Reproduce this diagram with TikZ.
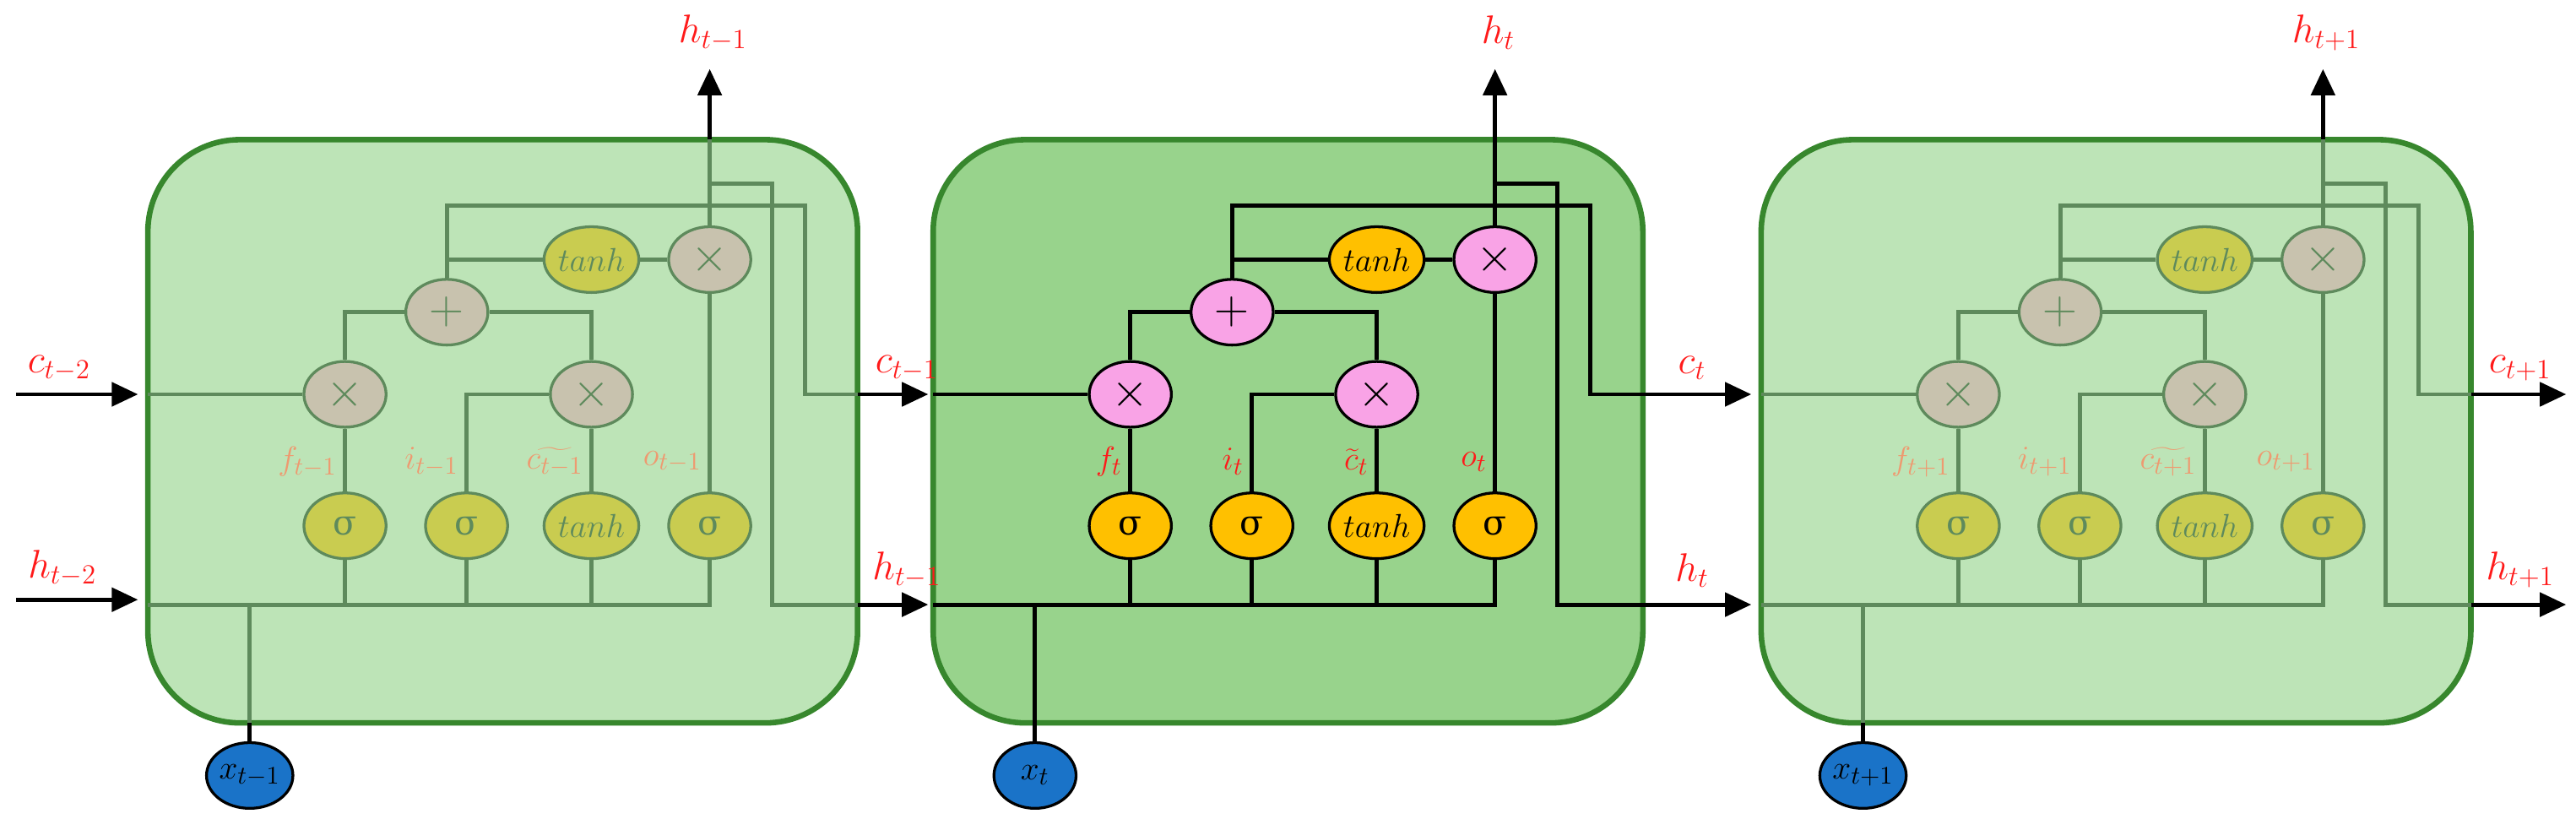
\documentclass[tikz,border=0pt]{standalone}
\usepackage{fontspec}
\newfontfamily\grk{DejaVu Serif}
\usetikzlibrary{shapes.geometric,arrows.meta}
\definecolor{red1}{HTML}{FF1A1A}
\tikzset{
  gate/.style={ellipse,draw=NB,fill=GF,text=NT,line width=1.2pt,minimum width=12.5mm,minimum height=10mm,inner sep=0pt,font=\fontsize{15}{15}\selectfont},
  op/.style={gate,fill=OF,font=\fontsize{20}{20}\selectfont},
  xin/.style={ellipse,draw=black,fill={rgb,255:red,26;green,115;blue,200},line width=1.2pt,minimum width=12.5mm,minimum height=10mm,inner sep=0pt,font=\fontsize{15}{15}\selectfont},
  wire/.style={draw=LC,line width=1.8pt},
  bwire/.style={draw=black,line width=1.8pt},
  arr/.style={bwire,-{Triangle[length=4mm,width=3.6mm]}},
  glab/.style={text=GL,anchor=east,inner sep=0.5pt,font=\fontsize{15}{15}\selectfont},
  olab/.style={text=red1,inner sep=1pt,font=\fontsize{17}{17}\selectfont},
  box/.style={draw={rgb,255:red,55;green,135;blue,45},line width=2.4pt,rounded corners=14mm}
}
\newcommand\lstmcell[6]{%
\begin{scope}[xshift=#2*0.25mm]
\draw[box,fill=#3] (568,85) rectangle (1000,440);
\node[gate] (#1fs) at (688,320) {\grk σ};
\node[gate] (#1is) at (762,320) {\grk σ};
\node[gate] (#1cs) at (838,320) {$tanh$};
\node[gate] (#1os) at (910,320) {\grk σ};
\node[op] (#1fx) at (688,240) {$\times$};
\node[op] (#1ix) at (838,240) {$\times$};
\node[op] (#1pl) at (750,190) {$+$};
\node[gate] (#1th) at (838,158) {$tanh$};
\node[op] (#1ox) at (910,158) {$\times$};
\node[xin] (#1x) at (630,472) {$x_{#4}$};
\coordinate (#1hl) at (568,368);
\coordinate (#1cl) at (568,240);
\coordinate (#1hb) at (910,368);
\coordinate (#1xb) at (630,368);
\coordinate (#1xe) at (630,440);
\coordinate (#1top) at (910,85);
\coordinate (#1topa) at (910,42);
\coordinate (#1ce) at (1000,240);
\coordinate (#1cea) at (#6,240);
\coordinate (#1he) at (1000,368);
\coordinate (#1hea) at (#6,368);
% wires
\draw[wire] (#1hl) -- (#1hb) -- (#1os);
\draw[wire] (#1xb) -- (#1xe);
\draw[bwire] (#1xe) -- (#1x);
\draw[wire] (#1fs) -- (#1fs |- #1hb);
\draw[wire] (#1is) -- (#1is |- #1hb);
\draw[wire] (#1cs) -- (#1cs |- #1hb);
\draw[wire] (#1fs) -- (#1fx);
\draw[wire] (#1cs) -- (#1ix);
\draw[wire] (#1is) |- (#1ix);
\draw[wire] (#1cl) -- (#1fx);
\draw[wire] (#1fx) |- (#1pl);
\draw[wire] (#1ix) |- (#1pl);
\draw[wire] (#1pl) |- (#1th);
\draw[wire] (#1th) -- (#1ox);
\draw[wire] (#1os) -- (#1ox);
\draw[wire] (#1pl.north) -- (750,125) -- (968,125) -- (968,240) -- (#1ce);
\draw[wire] (#1ox) -- (#1top);
\draw[arr] (#1top) -- (#1topa);
\draw[wire] (910,112) -- (948,112) -- (948,368) -- (#1he);
\draw[arr] (#1ce) -- (#1cea);
\draw[arr] (#1he) -- (#1hea);
% labels
\node[glab] at (684,281) {$f_{#4}$};
\node[glab] at (758,281) {$i_{#4}$};
\node[glab] at (834,281) {#5};
\node[glab] at (906,281) {$o_{#4}$};
\node[olab] at (1030,224) {$c_{#4}$};
\node[olab] at (1030,347) {$h_{#4}$};
\node[olab] at (912,20) {$h_{#4}$};
\end{scope}}
\begin{document}
\begin{tikzpicture}[x=0.25mm,y=-0.25mm]
\useasboundingbox (0,0) rectangle (1568,505);
% middle
\definecolor{LC}{HTML}{000000}
\definecolor{GF}{HTML}{FFC000}
\definecolor{OF}{HTML}{F9A3E6}
\definecolor{NB}{HTML}{000000}
\definecolor{NT}{HTML}{000000}
\definecolor{GL}{HTML}{FF1A1A}
\lstmcell{b}{0}{{rgb,255:red,152;green,211;blue,140}}{t}{$\widetilde{c}_t$}{1066}
% faded cells
\definecolor{LC}{HTML}{5E8A5C}
\definecolor{GF}{HTML}{C9CC50}
\definecolor{OF}{HTML}{C8C2AE}
\definecolor{NB}{HTML}{5E8A5C}
\definecolor{NT}{HTML}{5E8A5C}
\definecolor{GL}{HTML}{EE9A70}
\lstmcell{a}{-478}{{rgb,255:red,189;green,228;blue,183}}{t-1}{$\widetilde{c_{t-1}}$}{1043}
\lstmcell{c}{504}{{rgb,255:red,189;green,228;blue,183}}{t+1}{$\widetilde{c_{t+1}}$}{1058}
% inputs
\coordinate (c0) at (10,240);
\coordinate (h0) at (10,365);
\coordinate (c0e) at (84,240);
\coordinate (h0e) at (84,365);
\draw[arr] (c0) -- (c0e);
\draw[arr] (h0) -- (h0e);
\node[olab] at (36,224) {$c_{t-2}$};
\node[olab] at (38,346) {$h_{t-2}$};
\end{tikzpicture}
\end{document}
